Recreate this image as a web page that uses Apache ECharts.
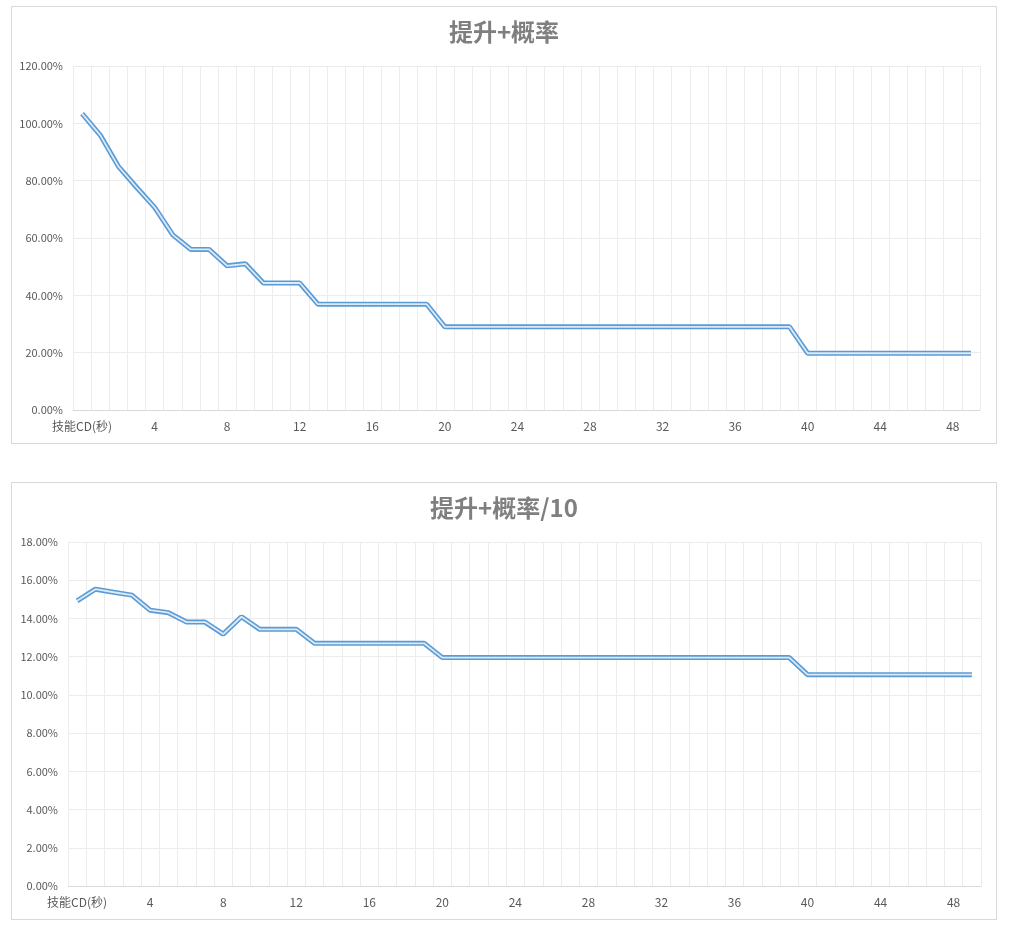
<!DOCTYPE html>
<html>
<head>
<meta charset="utf-8">
<script src="https://cdn.jsdelivr.net/npm/echarts@6/dist/echarts.min.js"></script>
<style>
    body { margin: 0; background: #fff; width: 1011px; height: 928px; position: relative; }
    .box { position: absolute; border: 1px solid #d9d9d9; box-sizing: border-box; background: #fff; }
</style>
</head>
<body>
<div id="chart1" class="box" style="left:11px;top:6px;width:986px;height:438px;"></div>
<div id="chart2" class="box" style="left:11px;top:482px;width:986px;height:438px;"></div>
<script>
// x轴类别: 第一格是表头
var categories = ['技能CD(秒)', '1', '2', '3', '4', '5', '6', '7', '8', '9',
    '10', '11', '12', '13', '14', '15', '16', '17', '18', '19',
    '20', '21', '22', '23', '24', '25', '26', '27', '28', '29',
    '30', '31', '32', '33', '34', '35', '36', '37', '38', '39',
    '40', '41', '42', '43', '44', '45', '46', '47', '48', '49'];

// 提升+概率 (%)
var rateUp = [103.4, 95.9, 85.0, 77.7, 70.7, 61.1, 56.0, 56.0, 50.3, 51.0,
    44.3, 44.3, 44.3, 36.9, 36.9, 36.9, 36.9, 36.9, 36.9, 36.9,
    29.0, 29.0, 29.0, 29.0, 29.0, 29.0, 29.0, 29.0, 29.0, 29.0,
    29.0, 29.0, 29.0, 29.0, 29.0, 29.0, 29.0, 29.0, 29.0, 29.0,
    19.8, 19.8, 19.8, 19.8, 19.8, 19.8, 19.8, 19.8, 19.8, 19.8];

// 提升+概率/10 (%)
var rateUp10 = [14.92, 15.53, 15.37, 15.22, 14.43, 14.30, 13.81, 13.81, 13.18, 14.09,
    13.43, 13.43, 13.43, 12.70, 12.70, 12.70, 12.70, 12.70, 12.70, 12.70,
    11.95, 11.95, 11.95, 11.95, 11.95, 11.95, 11.95, 11.95, 11.95, 11.95,
    11.95, 11.95, 11.95, 11.95, 11.95, 11.95, 11.95, 11.95, 11.95, 11.95,
    11.06, 11.06, 11.06, 11.06, 11.06, 11.06, 11.06, 11.06, 11.06, 11.06];

var font = '"Noto Sans CJK SC", "Noto Sans", sans-serif';
var labelColor = '#595959';

function makeOption(title, data, yMax, yStep, grid) {
    return {
        animation: false,
        title: {
            text: title,
            left: 'center',
            top: 8,
            textStyle: { color: '#7f7f7f', fontSize: 24, fontWeight: 'bold', fontFamily: font }
        },
        grid: grid,
        xAxis: {
            type: 'category',
            boundaryGap: true,
            data: categories,
            axisLine: { lineStyle: { color: '#d9d9d9', width: 1 } },
            axisTick: { show: false },
            axisLabel: {
                interval: 3,
                margin: 10,
                color: labelColor,
                fontSize: 12,
                fontFamily: font
            },
            splitLine: { show: true, interval: 0, lineStyle: { color: '#ececec', width: 1 } }
        },
        yAxis: {
            type: 'value',
            min: 0,
            max: yMax,
            interval: yStep,
            axisLine: { show: false },
            axisTick: { show: false },
            axisLabel: {
                margin: 10,
                color: labelColor,
                fontSize: 11,
                fontFamily: font,
                formatter: function (v) { return v.toFixed(2) + '%'; }
            },
            splitLine: { lineStyle: { color: '#ececec', width: 1 } }
        },
        series: [{
            // 外层蓝边
            type: 'line',
            data: data,
            symbol: 'none',
            lineStyle: { color: '#5b9bd5', width: 5 },
            z: 2
        }, {
            // 中间浅色, 模拟双线
            type: 'line',
            data: data,
            symbol: 'none',
            lineStyle: { color: '#dceaf7', width: 1.8 },
            z: 3
        }]
    };
}

var chart1 = echarts.init(document.getElementById('chart1'));
chart1.setOption(makeOption('提升+概率', rateUp, 120, 20,
    { left: 61, right: 16, top: 59, bottom: 33, containLabel: false }));

var chart2 = echarts.init(document.getElementById('chart2'));
chart2.setOption(makeOption('提升+概率/10', rateUp10, 18, 2,
    { left: 56, right: 15, top: 59, bottom: 33, containLabel: false }));
</script>
</body>
</html>
